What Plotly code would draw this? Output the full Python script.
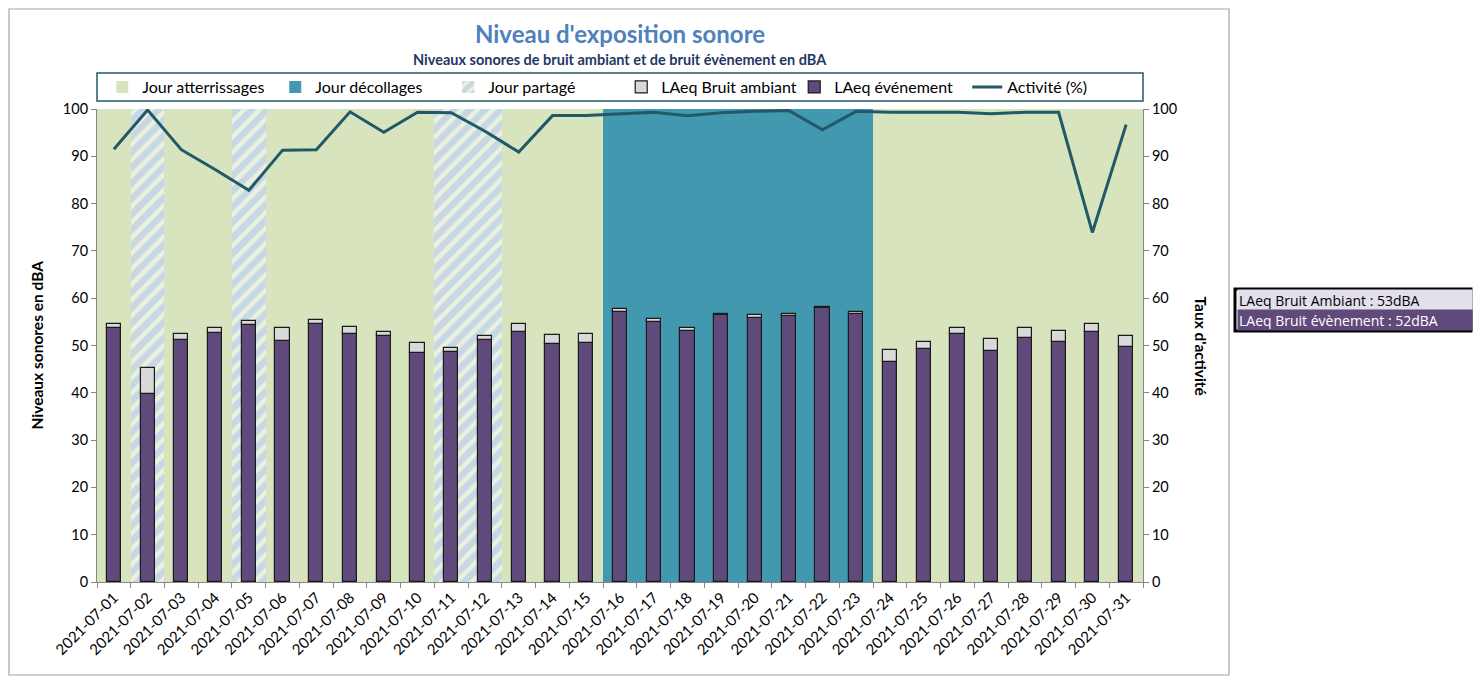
import plotly.graph_objects as go

# ---------------- data ----------------
dates = [f"2021-07-{d:02d}" for d in range(1, 32)]
day_type = ["A", "P", "A", "A", "P", "A", "A", "A", "A", "A", "P", "P", "A", "A", "A",
            "D", "D", "D", "D", "D", "D", "D", "D",
            "A", "A", "A", "A", "A", "A", "A", "A"]
laeq_ambiant = [54.6, 45.3, 52.5, 53.6, 55.1, 53.6, 55.3, 53.9, 52.8, 50.5, 49.4, 52.1,
                54.6, 52.2, 52.5, 57.7, 55.6, 53.7, 56.7, 56.4, 56.6, 58.2, 57.0,
                49.0, 50.7, 53.6, 51.4, 53.7, 53.0, 54.5, 52.0]
laeq_evenement = [53.8, 39.7, 51.1, 52.7, 54.4, 51.0, 54.6, 52.5, 52.0, 48.4, 48.7, 51.1,
                  52.9, 50.3, 50.5, 57.0, 54.9, 53.1, 56.5, 55.8, 56.3, 58.0, 56.7,
                  46.5, 49.2, 52.4, 48.9, 51.6, 50.7, 52.8, 49.6]
activite = [91.5, 99.8, 91.4, 87.2, 82.8, 91.3, 91.4, 99.4, 95.1, 99.3, 99.2, 95.3,
            90.9, 98.6, 98.6, 99.0, 99.3, 98.6, 99.2, 99.5, 99.7, 95.6, 99.5,
            99.3, 99.3, 99.3, 99.0, 99.3, 99.3, 73.9, 96.7]
band_names = {"A": "Jour atterrissages", "D": "Jour décollages", "P": "Jour partagé"}
summary_lines = ["LAeq Bruit Ambiant : 53dBA", "LAeq Bruit évènement : 52dBA"]
band_full = 100

FONT = "Lato"
C_ATT = "#D7E4BD"
C_DEC = "#4198AF"
C_EVT = "#604A7B"
C_AMB = "#D9D9D9"
C_LINE = "#215968"

# page offset (body margin of the html page)
OFF = 8
PL, PR, PT, PB = 97, 1143, 109, 582     # plot area in page pixels
PW, PH = PR - PL, PB - PT


def px(xp):
    return (xp - PL) / PW


def py(yp):
    return (PB - yp) / PH


fig = go.Figure()

# background bands (day types)
for code, color in [("A", C_ATT), ("D", C_DEC)]:
    fig.add_trace(go.Bar(
        x=dates, y=[band_full if t == code else None for t in day_type],
        name=band_names[code], width=1, marker=dict(color=color, line=dict(width=0)),
        xaxis="x", yaxis="y", legendrank=1 if code == "A" else 2, hoverinfo="skip"))
fig.add_trace(go.Bar(
    x=dates, y=[band_full if t == "P" else None for t in day_type],
    name=band_names["P"], width=1,
    marker=dict(color="#EBF1DE", line=dict(width=0),
                pattern=dict(shape="/", fgcolor="#A3C0EA", bgcolor="#EBF1DE",
                             size=11, solidity=0.6)),
    xaxis="x", yaxis="y", legendrank=3, hoverinfo="skip"))

# stacked LAeq bars
fig.add_trace(go.Bar(
    x=dates, y=laeq_evenement, name="LAeq événement", width=0.42,
    marker=dict(color=C_EVT, line=dict(color="#1a1a1a", width=1.2)),
    xaxis="x", yaxis="y3", legendrank=5))
fig.add_trace(go.Bar(
    x=dates, y=[a - e for a, e in zip(laeq_ambiant, laeq_evenement)],
    base=laeq_evenement, name="LAeq Bruit ambiant", width=0.42,
    marker=dict(color=C_AMB, line=dict(color="#1a1a1a", width=1.2)),
    xaxis="x", yaxis="y3", legendrank=4))

# activity line
fig.add_trace(go.Scatter(
    x=dates, y=activite, name="Activité (%)", mode="lines",
    line=dict(color=C_LINE, width=3), xaxis="x", yaxis="y2", legendrank=6))

axis_common = dict(showgrid=False, zeroline=False, showline=True, linecolor="#868686",
                   linewidth=1, ticks="outside", tickcolor="#868686", ticklen=5)
yfont = dict(family=FONT, size=14.5, color="#000")

W, H = 1481 - OFF, 677 - OFF
fig.update_layout(
    width=W, height=H,
    margin=dict(l=PL - OFF, r=W - (PR - OFF), t=PT - OFF, b=H - (PB - OFF)),
    paper_bgcolor="white", plot_bgcolor="white",
    barmode="overlay", bargap=0,
    font=dict(family=FONT, color="#000"),
    showlegend=True,
    legend=dict(orientation="h", x=0.005, xanchor="left", y=py(87), yanchor="middle",
                entrywidth=128, entrywidthmode="pixels",
                font=dict(family=FONT, size=16, color="#000"),
                bgcolor="rgba(0,0,0,0)", borderwidth=0, traceorder="normal",
                itemclick=False),
    xaxis=dict(type="category", tickangle=-45, tickson="boundaries",
               range=[-0.5, len(dates) - 0.5],
               tickfont=dict(family=FONT, size=15, color="#000"), **axis_common),
    yaxis=dict(range=[0, 100], dtick=10, tickfont=yfont, **axis_common),
    yaxis2=dict(range=[0, 100], dtick=10, overlaying="y", side="right",
                tickfont=yfont, **axis_common),
    yaxis3=dict(range=[0, 100], overlaying="y", visible=False),
    title=dict(text="<b>Niveau d'exposition sonore</b>", x=0.5, xref="paper",
               xanchor="center", y=1 - (35 - OFF) / H, yanchor="middle",
               font=dict(family=FONT, size=24, color="#4F81BD")),
)

# subtitle and axis titles
fig.add_annotation(text="<b>Niveaux sonores de bruit ambiant et de bruit évènement en dBA</b>",
                   xref="paper", yref="paper", x=0.5, y=py(60), showarrow=False,
                   font=dict(family=FONT, size=14.5, color="#1F3864"), yanchor="middle")
fig.add_annotation(text="<b>Niveaux sonores en dBA</b>", xref="paper", yref="paper",
                   x=px(36), xanchor="center", y=0.5, yanchor="middle",
                   textangle=-90, showarrow=False,
                   font=dict(family=FONT, size=15.5, color="#000"))
fig.add_annotation(text="<b>Taux d'activité</b>", xref="paper", yref="paper",
                   x=px(1201), xanchor="center", y=0.5, yanchor="middle",
                   textangle=90, showarrow=False,
                   font=dict(family=FONT, size=15.5, color="#000"))

# legend frame
fig.add_shape(type="rect", xref="paper", yref="paper", x0=0, x1=1,
              y0=py(101), y1=py(73),
              line=dict(color="#215968", width=1.5), fillcolor="rgba(0,0,0,0)")
# outer chart frame
fig.add_shape(type="rect", xref="paper", yref="paper",
              x0=px(OFF + 1), x1=px(1229), y0=py(675), y1=py(OFF + 1),
              line=dict(color="#A6A6A6", width=1.2), fillcolor="rgba(0,0,0,0)")

# summary box on the right
row_cols = [("#E4DFEC", "#000"), (C_EVT, "#FFFFFF")]
for i, (txt, (bg, fg)) in enumerate(zip(summary_lines, row_cols)):
    yc = 300 + 20 * i
    fig.add_annotation(text=txt, xref="paper", yref="paper",
                       x=px(1237), xanchor="left", y=py(yc), yanchor="middle",
                       width=232, height=18, align="left", bgcolor=bg, borderpad=1,
                       showarrow=False, font=dict(family="Open Sans", size=14, color=fg))
fig.add_shape(type="rect", xref="paper", yref="paper",
              x0=px(1235), x1=px(1471), y0=py(331), y1=py(289),
              line=dict(color="#000", width=3), fillcolor="rgba(0,0,0,0)")

fig.write_html("out.html")
